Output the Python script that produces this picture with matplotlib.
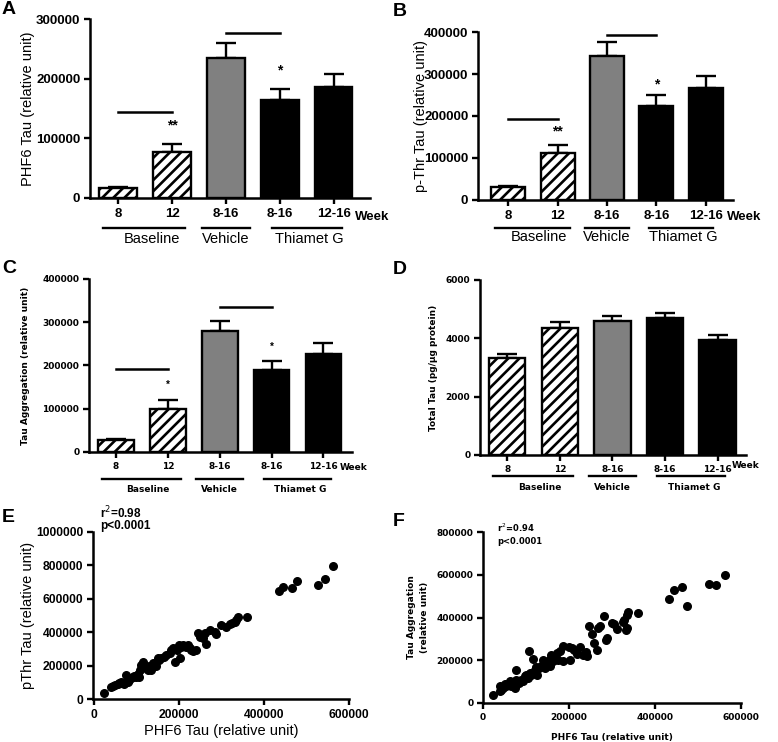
import numpy as np
import matplotlib
matplotlib.use("Agg")
import matplotlib.pyplot as plt
import matplotlib.transforms as mtransforms

# ---------------- data ----------------
groups = ["8", "12", "8-16", "8-16", "12-16"]
cohorts = ["Baseline", "Vehicle", "Thiamet G"]

phf6_mean = [16500, 76500, 234000, 165000, 185500]
phf6_sem = [1500, 14000, 25000, 18500, 22000]
pthr_mean = [30000, 112000, 342000, 224000, 267000]
pthr_sem = [3500, 18500, 35000, 25500, 28000]
agg_mean = [27000, 100000, 280000, 190000, 227000]
agg_sem = [2000, 21000, 24000, 21500, 24500]
total_mean = [3320, 4346, 4600, 4710, 3935]
total_sem = [160, 220, 150, 145, 170]

# E: PHF6 vs pThr
e_phf6 = [22000, 39400, 44900, 49600, 55100, 59000, 63000, 66900, 70900, 74800,
          78700, 82700, 86600, 90500, 94500, 98400, 102400, 106300, 107900, 110200,
          114200, 118100, 122000, 126000, 129900, 133800, 137800, 145700, 149600, 153500,
          157500, 165300, 169300, 177200, 181100, 185000, 189000, 194500, 199200, 202300,
          204700, 208600, 216500, 220500, 224400, 228300, 232300, 240100, 244100, 248000,
          255900, 259800, 263800, 271600, 283400, 287400, 299200, 309400, 318900, 325200,
          330700, 334600, 338600, 359800, 434600, 444800, 464600, 476400, 526000, 543000,
          563000]
e_pthr = [37700, 73700, 77700, 83700, 89700, 97600, 103600, 93700, 89700, 143400,
          103600, 113600, 123500, 133500, 137500, 133500, 149400, 133500, 173300, 203200,
          223100, 193300, 183300, 173300, 197200, 173300, 213200, 197200, 243100, 233100,
          243100, 249000, 263000, 273000, 292900, 302800, 223100, 292900, 322800, 243100,
          312800, 322800, 312800, 322800, 302800, 292900, 288900, 292900, 392500, 372600,
          362600, 392500, 328700, 412400, 402500, 388500, 442300, 432300, 448300, 456200,
          462200, 472200, 488100, 492100, 645500, 671000, 663000, 709000, 681000, 717000,
          797000]

# F: PHF6 vs aggregation
f_phf6 = [23400, 38900, 40400, 42800, 46700, 50500, 54400, 58300, 62200, 66100,
          70000, 73800, 76100, 77700, 84000, 89400, 93300, 97100, 101000, 104900,
          107300, 108800, 112700, 116600, 120400, 122800, 125900, 130600, 136000, 139900,
          143800, 147700, 151600, 155400, 157000, 159300, 163200, 167100, 171000, 174900,
          178700, 184900, 186500, 200500, 202000, 205900, 211400, 217600, 225400, 231600,
          239300, 240900, 247100, 252500, 258000, 264200, 268100, 272000, 281300, 286000,
          287500, 299100, 304600, 310800, 324800, 328000, 332600, 334100, 335700, 338000,
          360500, 433600, 444500, 463900, 475500, 525300, 542400, 562500]
f_agg = [35800, 54400, 77800, 62300, 70100, 90300, 77800, 85700, 101200, 81000,
         93400, 70100, 152700, 105900, 93400, 109000, 101200, 124600, 132500, 116800,
         241600, 140300, 132500, 205700, 156000, 168200, 132500, 163600, 171400, 202600,
         163600, 187000, 194800, 171400, 226000, 210400, 194800, 218200, 233800, 202600,
         241600, 194800, 268100, 261800, 202600, 257300, 249400, 230700, 261800, 226000,
         236900, 218200, 358500, 324200, 280600, 249400, 350700, 358500, 408400, 293000,
         303900, 374100, 371000, 346100, 377200, 389800, 339800, 413000, 350700, 425600,
         421000, 487900, 527000, 541000, 452000, 556600, 553500, 598600]

# ---------------- figure ----------------
W, H = 778, 742
SANS = ["Liberation Sans", "DejaVu Sans"]     # Arial-like, panels A, B, E
WIDE = ["DejaVu Sans"]                         # wide small text, panels C, D, F
plt.rcParams["font.family"] = SANS
plt.rcParams["hatch.linewidth"] = 1.9
plt.rcParams["hatch.color"] = "black"
fig = plt.figure(figsize=(W / 100, H / 100), dpi=100)
tpx = mtransforms.Affine2D().scale(1 / W, -1 / H).translate(0, 1) + fig.transFigure


def axes_px(x0, y0, x1, y1):
    return fig.add_axes([x0 / W, 1 - y1 / H, (x1 - x0) / W, (y1 - y0) / H])


def style(ax, fs, family):
    for s in ["top", "right"]:
        ax.spines[s].set_visible(False)
    for s in ["left", "bottom"]:
        ax.spines[s].set_linewidth(1.8)
    ax.tick_params(width=1.7, length=4, labelsize=fs, pad=3)
    for lab in ax.get_xticklabels() + ax.get_yticklabels():
        lab.set_fontweight("bold")
        lab.set_family(family)


def ylab(ax, text, xpx, fs, weight="normal", family=SANS):
    ax.set_ylabel(text, fontsize=fs, fontweight=weight, family=family, linespacing=1.6)
    ax.yaxis.set_label_coords(xpx / W, 0.5, transform=fig.transFigure)
    ax.yaxis.label.set_verticalalignment("center")
    bb = ax.get_position()
    ax.yaxis.label.set_y((bb.y0 + bb.y1) / 2)


def bar_panel(ax, means, sems, ylim, yticks, xlim, fs_tick, fs_grp, family,
              line_y, grp_y, week_y, week_dx):
    x = np.arange(len(groups))
    colors = ["white", "white", "#808080", "black", "black"]
    hatches = ["///", "///", "", "", ""]
    ax.errorbar(x, means, yerr=[np.zeros(len(x)), sems], fmt="none", ecolor="k",
                elinewidth=1.7, capsize=7.5, capthick=1.7, zorder=1)
    bars = ax.bar(x, means, width=0.69, color=colors, edgecolor="k",
                  linewidth=1.7, zorder=2)
    for b, h in zip(bars, hatches):
        b.set_hatch(h)
    ax.set_xlim(*xlim)
    ax.set_ylim(*ylim)
    ax.set_xticks(x, groups)
    ax.set_yticks(yticks, [str(int(t)) for t in yticks])
    style(ax, fs_tick, family)
    grp_w = "normal" if family == SANS else "bold"
    bl = mtransforms.blended_transform_factory(ax.transData, tpx)
    spans = [(-0.27, 1.25), (1.55, 2.45), (2.85, 4.15)]
    centers = [0.62, 2.0, 3.55]
    for (a, b), c, name in zip(spans, centers, cohorts):
        ax.plot([a, b], [line_y, line_y], color="k", lw=1.7, transform=bl,
                clip_on=False)
        ax.text(c, grp_y, name, transform=bl, ha="center", va="center",
                fontsize=fs_grp, fontweight=grp_w, family=family)
    ax.annotate("Week", xy=(4, week_y), xycoords=bl, xytext=(week_dx, 0),
                textcoords="offset points", ha="left", va="center",
                fontsize=fs_tick, fontweight="bold", family=family)


def sig(ax, pairs, stars, fs):
    for a, b, y in pairs:
        ax.plot([a, b], [y, y], color="k", lw=1.8, clip_on=False)
    for xs, y, s in stars:
        ax.text(xs, y, s, ha="center", va="center", fontsize=fs, fontweight="bold")


def letter(xpx, ypx, s):
    fig.text(xpx / W, 1 - ypx / H, s, fontsize=14, fontweight="bold",
             ha="left", va="center")


# A
axA = axes_px(90, 19, 370, 198)
bar_panel(axA, phf6_mean, phf6_sem, (0, 300000), [0, 100000, 200000, 300000],
          (-0.52, 4.67), 9.5, 10.5, SANS, 228, 239, 217, 15)
sig(axA, [(0, 1, 144600), (2, 3, 276000)], [(1, 122000, "**"), (3, 214000, "*")], 10)
ylab(axA, "PHF6 Tau (relative unit)", 28, 10.5)
letter(2, 10, "A")

# B
axB = axes_px(478, 32, 733, 200)
bar_panel(axB, pthr_mean, pthr_sem, (0, 400000), [0, 100000, 200000, 300000, 400000],
          (-0.61, 4.55), 9.5, 10.5, SANS, 228, 237, 217, 15)
sig(axB, [(0, 1, 194000), (2, 3, 394000)], [(1, 164000, "**"), (3, 276000, "*")], 10)
ylab(axB, "p-Thr Tau (relative unit)", 421, 10.5)
letter(393, 11, "B")

# C
axC = axes_px(89, 279, 352, 452)
bar_panel(axC, agg_mean, agg_sem, (0, 400000), [0, 100000, 200000, 300000, 400000],
          (-0.52, 4.55), 6.5, 6.5, WIDE, 479, 490, 468, 12)
sig(axC, [(0, 1, 192500), (2, 3, 336000)], [(1, 156000, "*"), (3, 243000, "*")], 7)
ylab(axC, "Tau Aggregation (relative unit)", 26, 6.5, "bold", WIDE)
letter(2, 268, "C")

# D
axD = axes_px(480, 280, 746, 455)
bar_panel(axD, total_mean, total_sem, (0, 6000), [0, 2000, 4000, 6000],
          (-0.52, 4.54), 6.5, 6.5, WIDE, 476, 487, 465, 10)
ylab(axD, "Total Tau (pg/\u00b5g protein)", 433, 6.5, "bold", WIDE)
letter(393, 270, "D")

# E
axE = axes_px(93, 532, 349, 699)
axE.scatter(e_phf6, e_pthr, s=30, color="black", zorder=3, clip_on=False)
axE.set_xlim(-3000, 600000)
axE.set_ylim(0, 1000000)
axE.set_xticks([0, 200000, 400000, 600000], ["0", "200000", "400000", "600000"])
axE.set_yticks([0, 200000, 400000, 600000, 800000, 1000000],
               ["0", "200000", "400000", "600000", "800000", "1000000"])
style(axE, 8.7, SANS)
axE.set_xlabel("PHF6 Tau (relative unit)", fontsize=10.5, labelpad=2)
ylab(axE, "pThr Tau (relative unit)", 28, 10.5)
fig.text(100 / W, 1 - 513 / H, "r$^2$=0.98", fontsize=8.5, fontweight="bold",
         ha="left", va="center")
fig.text(100 / W, 1 - 526 / H, "p<0.0001", fontsize=8.5, fontweight="bold",
         ha="left", va="center")
letter(2, 518, "E")

# F
axF = axes_px(483, 532, 741, 703)
axF.scatter(f_phf6, f_agg, s=30, color="black", zorder=3, clip_on=False)
axF.set_xlim(0, 600000)
axF.set_ylim(0, 800000)
axF.set_xticks([0, 200000, 400000, 600000], ["0", "200000", "400000", "600000"])
axF.set_yticks([0, 200000, 400000, 600000, 800000],
               ["0", "200000", "400000", "600000", "800000"])
style(axF, 6.5, WIDE)
axF.set_xlabel("PHF6 Tau (relative unit)", fontsize=6.5, fontweight="bold",
               family=WIDE, labelpad=8)
ylab(axF, "Tau Aggregation\n(relative unit)", 418, 6.5, "bold", WIDE)
fig.text(497 / W, 1 - 528 / H, "r$^2$=0.94", fontsize=6, fontweight="bold",
         family=WIDE, ha="left", va="center")
fig.text(497 / W, 1 - 542 / H, "p<0.0001", fontsize=6, fontweight="bold",
         family=WIDE, ha="left", va="center")
letter(393, 522, "F")

fig.savefig("out.png", dpi=100)
